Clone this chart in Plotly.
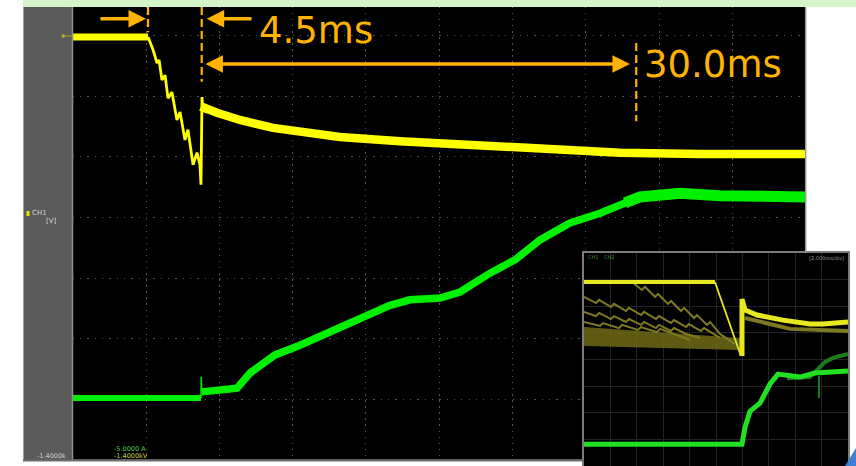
import plotly.graph_objects as go

W, H = 856, 466

# ---------------- main scope data (time in ms, 5 ms/div; amplitude in divisions) -------------
yel_flat_t = [0, 5.14]
yel_flat_v = [2.98, 2.98]
yel_drop_t = [5.14, 5.48, 5.75, 5.89, 6.09, 6.30, 6.50, 6.77, 7.11, 7.32, 7.66, 7.86, 8.21, 8.48, 8.68, 8.75, 8.82, 8.89]
yel_drop_v = [2.98, 2.77, 2.55, 2.60, 2.27, 2.35, 1.97, 2.07, 1.61, 1.74, 1.28, 1.45, 0.87, 1.07, 0.87, 0.54, 1.99, 1.74]
yel_after_t = [8.89, 9.02, 9.84, 11.41, 13.66, 15.98, 18.23, 22.33, 26.42, 30.51, 33.24, 37.33, 42.79, 50]
yel_after_v = [1.74, 1.81, 1.73, 1.61, 1.48, 1.40, 1.33, 1.26, 1.20, 1.15, 1.10, 1.07, 1.05, 1.05]

grn_flat_t = [0, 8.75]
grn_flat_v = [-2.98, -2.98]
grn_spike_t = [8.75, 8.77, 8.80]
grn_spike_v = [-2.98, -2.63, -2.88]
grn_rise_t = [8.80, 11.21, 12.09, 13.80, 15.50, 17.55, 19.60, 21.64, 23.01, 25.05, 26.42, 28.47, 30.17, 31.88, 33.92, 35.97, 37.67, 38.70]
grn_rise_v = [-2.88, -2.82, -2.57, -2.27, -2.11, -1.89, -1.64, -1.45, -1.36, -1.33, -1.23, -0.92, -0.70, -0.37, -0.09, 0.07, 0.24, 0.34]
grn_plat_t = [37.67, 38.70, 41.43, 44.15, 50]
grn_plat_v = [0.24, 0.34, 0.40, 0.36, 0.34]

# annotation markers (ms / div)
mark_start_t, mark_end_t, mark_30_t = 5.14, 8.80, 38.44
label_short = "4.5ms"
label_long = "30.0ms"

# ---------------- inset data (time in ms, 2 ms/div; amplitude in divisions) -------------
in_yel_t = [0, 9.92, 11.89]
in_yel_v = [2.91, 2.91, 0.13]
in_yel2_t = [11.97, 11.97, 12.20, 13.11, 15.08, 17.12, 18.11, 20]
in_yel2_v = [0.13, 2.27, 1.86, 1.67, 1.48, 1.33, 1.33, 1.41]
in_olv_after_t = [12.20, 15.61, 20]
in_olv_after_v = [1.56, 1.15, 1.07]

in_ol1_t = [3.64, 4.39, 4.62, 5.38, 5.61, 6.36, 6.59, 7.35, 7.58, 8.33, 8.56, 9.32, 9.55, 10.30, 11.44]
in_ol1_v = [2.91, 2.61, 2.73, 2.35, 2.46, 2.09, 2.20, 1.82, 1.94, 1.56, 1.67, 1.30, 1.41, 0.96, 0.58]
in_ol2_t = [0, 0.91, 1.14, 2.05, 2.27, 3.18, 3.41, 4.32, 4.55, 5.45, 5.68, 6.59, 6.82, 7.73, 7.95, 8.86, 9.09, 10.30]
in_ol2_v = [2.35, 2.12, 2.24, 1.97, 2.09, 1.82, 1.94, 1.67, 1.79, 1.52, 1.63, 1.37, 1.48, 1.22, 1.33, 1.07, 1.18, 0.81]
in_ol3_t = [0, 0.91, 1.14, 2.05, 2.27, 3.18, 3.41, 4.32, 4.55, 5.45, 5.68, 6.59, 6.82, 7.73, 8.79]
in_ol3_v = [1.79, 1.63, 1.75, 1.52, 1.63, 1.41, 1.52, 1.30, 1.41, 1.18, 1.30, 1.07, 1.18, 0.96, 0.81]
in_ol4_t = [0, 1.21, 1.44, 2.65, 2.88, 4.09, 4.32, 5.53, 5.76, 8.03]
in_ol4_v = [1.41, 1.26, 1.37, 1.18, 1.30, 1.11, 1.22, 1.03, 1.15, 0.73]
in_band_t = [0, 11.82, 11.82, 0]
in_band_v = [1.22, 0.81, 0.36, 0.51]

in_grn_t = [0, 11.97, 12.20, 12.58, 13.33, 14.09, 14.70, 15.61, 16.36, 17.50, 18.64, 20]
in_grn_v = [-3.18, -3.18, -2.54, -1.94, -1.64, -0.92, -0.55, -0.62, -0.66, -0.51, -0.47, -0.43]
in_grn2_t = [15.38, 17.12, 18.26, 18.86, 19.39, 20]
in_grn2_v = [-0.70, -0.66, -0.09, 0.06, 0.13, 0.21]
in_grn3_t = [17.80, 17.80]
in_grn3_v = [-0.62, -1.45]

YEL = "#ffff00"
GRN = "#00f000"
ORG = "#ffb300"
OLV = "#7f7a22"


def PX(x):
    return x / W


def PY(y):
    return 1 - y / H


fig = go.Figure()


def line(t, v, color, width, xa="x", ya="y", **kw):
    fig.add_trace(go.Scatter(x=t, y=v, mode="lines", xaxis=xa, yaxis=ya,
                             line=dict(color=color, width=width), hoverinfo="skip",
                             showlegend=False, **kw))


# main traces
line(yel_flat_t, yel_flat_v, YEL, 7)
line(yel_drop_t, yel_drop_v, YEL, 2.8)
line(yel_after_t, yel_after_v, YEL, 8.5)
line(grn_flat_t, grn_flat_v, GRN, 6)
line(grn_spike_t, grn_spike_v, GRN, 1.5)
line(grn_rise_t, grn_rise_v, GRN, 7.5)
line(grn_plat_t, grn_plat_v, GRN, 11)

# inset traces
fig.add_trace(go.Scatter(x=in_band_t, y=in_band_v, mode="lines", fill="toself",
                         fillcolor="rgba(112,106,22,0.85)", line=dict(width=0),
                         xaxis="x2", yaxis="y2", hoverinfo="skip", showlegend=False))
for tt, vv in [(in_ol1_t, in_ol1_v), (in_ol2_t, in_ol2_v), (in_ol3_t, in_ol3_v), (in_ol4_t, in_ol4_v)]:
    line(tt, vv, OLV, 2, "x2", "y2")
line(in_olv_after_t, in_olv_after_v, OLV, 4, "x2", "y2")
line(in_yel_t[:2], in_yel_v[:2], "#e8e820", 4, "x2", "y2")
line(in_yel_t[1:], in_yel_v[1:], "#e8e820", 1.8, "x2", "y2")
line(in_yel2_t, in_yel2_v, "#e8e820", 5, "x2", "y2")
line(in_grn2_t, in_grn2_v, "#1f7a1f", 4, "x2", "y2")
line(in_grn3_t, in_grn3_v, "#1f7a1f", 2, "x2", "y2")
line(in_grn_t, in_grn_v, "#22e022", 5, "x2", "y2")

# ---------------- layout ----------------
xdom = [72.7 / W, 805.7 / W]
ydom = [PY(459.7), PY(7)]

fig.update_layout(
    width=W, height=H, margin=dict(l=0, r=0, t=0, b=0, pad=0),
    paper_bgcolor="white", plot_bgcolor="black",
    xaxis=dict(domain=xdom, range=[0, 50], dtick=5, tick0=0, showgrid=True,
               gridcolor="#555555", gridwidth=1.3, griddash="1.3px,4.75px",
               zeroline=False, showticklabels=False, ticks="", showline=False, fixedrange=True),
    yaxis=dict(domain=ydom, range=[-4, 3.476], dtick=1, tick0=0, showgrid=True,
               gridcolor="#555555", gridwidth=1.3, griddash="1.3px,6.03px",
               zeroline=False, showticklabels=False, ticks="", showline=False, fixedrange=True),
    xaxis2=dict(domain=[584 / W, 848 / W], anchor="y2", range=[0, 20], dtick=2, tick0=0,
                showgrid=True, gridcolor="#232323", gridwidth=1, zeroline=False,
                showticklabels=False, ticks="", showline=True, mirror=True,
                linecolor="#7c7c7c", linewidth=1.5, fixedrange=True),
    yaxis2=dict(domain=[0, PY(253)], anchor="x2", range=[-4, 4], dtick=1, tick0=0,
                showgrid=True, gridcolor="#232323", gridwidth=1, zeroline=False,
                showticklabels=False, ticks="", showline=True, mirror=True,
                linecolor="#7c7c7c", linewidth=1.5, fixedrange=True),
)

shapes = []
# top light-green band
shapes.append(dict(type="rect", xref="paper", yref="paper", x0=PX(23), x1=1, y0=PY(7), y1=1,
                   fillcolor="#d6f4ca", line=dict(width=0), layer="above"))
# left gray panel
shapes.append(dict(type="rect", xref="paper", yref="paper", x0=PX(23), x1=PX(72.7), y0=PY(461), y1=PY(7),
                   fillcolor="#5a5a5a", line=dict(width=0)))
shapes.append(dict(type="line", xref="paper", yref="paper", x0=PX(23.5), x1=PX(23.5), y0=PY(461), y1=PY(7),
                   line=dict(color="#9c9c9c", width=1)))
shapes.append(dict(type="line", xref="paper", yref="paper", x0=PX(72.5), x1=PX(72.5), y0=PY(460), y1=PY(7),
                   line=dict(color="#8e8e8e", width=1.5)))
# bottom border
shapes.append(dict(type="line", xref="paper", yref="paper", x0=PX(23), x1=PX(584), y0=PY(460.5), y1=PY(460.5),
                   line=dict(color="#6e6e6e", width=2)))
# right border of main screen
shapes.append(dict(type="line", xref="paper", yref="paper", x0=PX(805.7), x1=PX(805.7), y0=PY(253), y1=PY(7),
                   line=dict(color="#9a9a9a", width=1.5)))
# blue logo corner
shapes.append(dict(type="path", xref="paper", yref="paper",
                   path=f"M {PX(845)},{PY(466)} L {PX(856)},{PY(448)} L {PX(856)},{PY(466)} Z",
                   fillcolor="#3d7fd0", line=dict(width=0)))
# CH1 marker square
shapes.append(dict(type="rect", xref="paper", yref="paper", x0=PX(26.5), x1=PX(29.5), y0=PY(216), y1=PY(211),
                   fillcolor="#e8e800", line=dict(width=0)))
# yellow channel ground marker
shapes.append(dict(type="line", xref="paper", yref="paper", x0=PX(64), x1=PX(73), y0=PY(36), y1=PY(36),
                   line=dict(color="#a9a230", width=1)))
shapes.append(dict(type="circle", xref="paper", yref="paper", x0=PX(61.5), x1=PX(65), y0=PY(38), y1=PY(34),
                   fillcolor="#a9a230", line=dict(width=0)))
# orange dashed markers (data coordinates)
for t0, v0, v1 in [(mark_start_t, 3.476, 3.06), (mark_end_t, 3.476, 2.24), (mark_30_t, 2.88, 1.59)]:
    shapes.append(dict(type="line", xref="x", yref="y", x0=t0, x1=t0, y0=v0, y1=v1,
                       line=dict(color=ORG, width=2.2, dash="8px,4px")))
fig.update_layout(shapes=shapes)

ann = []
# arrows
ann.append(dict(x=5.00, y=3.28, ax=1.79, ay=3.28, xref="x", yref="y", axref="x", ayref="y",
                text="", showarrow=True, arrowhead=2, arrowsize=1, arrowwidth=3.5, arrowcolor=ORG))
ann.append(dict(x=9.14, y=3.28, ax=12.30, ay=3.28, xref="x", yref="y", axref="x", ayref="y",
                text="", showarrow=True, arrowhead=2, arrowsize=1, arrowwidth=3.5, arrowcolor=ORG))
ann.append(dict(x=38.01, y=2.535, ax=8.95, ay=2.535, xref="x", yref="y", axref="x", ayref="y",
                text="", showarrow=True, arrowhead=2, startarrowhead=2, arrowside="end+start",
                arrowsize=1, startarrowsize=1, arrowwidth=3.5, arrowcolor=ORG))
# big labels
ann.append(dict(x=12.54, y=3.09, xref="x", yref="y", xanchor="left", yanchor="middle",
                text=label_short, showarrow=False,
                font=dict(family="DejaVu Sans", size=37, color=ORG)))
ann.append(dict(x=38.80, y=2.52, xref="x", yref="y", xanchor="left", yanchor="middle",
                text=label_long, showarrow=False,
                font=dict(family="DejaVu Sans", size=37, color=ORG)))
# small scope texts
small = [
    ("CH1", 30, 213, "left", "#d8d8d8", 7),
    ("[V]", 44, 221, "left", "#d8d8d8", 7),
    ("-1.4000k", 68, 456, "right", "#cfcfcf", 6.5),
    ("-5.0000 A", 112, 449, "left", "#4fcf4f", 6.5),
    ("-1.4000kV", 112, 456, "left", "#d0d040", 6.5),
    ("[2.000ms/div]", 846, 257.5, "right", "#9a9a9a", 5),
    ("CH1", 586, 256.5, "left", "#3f8f3f", 5),
    ("CH2", 602, 256.5, "left", "#3f8f3f", 5),
]
for txt, x, y, anc, col, sz in small:
    ann.append(dict(x=PX(x), y=PY(y), xref="paper", yref="paper", xanchor=anc, yanchor="middle",
                    text=txt, showarrow=False, font=dict(family="DejaVu Sans", size=sz, color=col)))
fig.update_layout(annotations=ann)

fig.write_html("out.html")
